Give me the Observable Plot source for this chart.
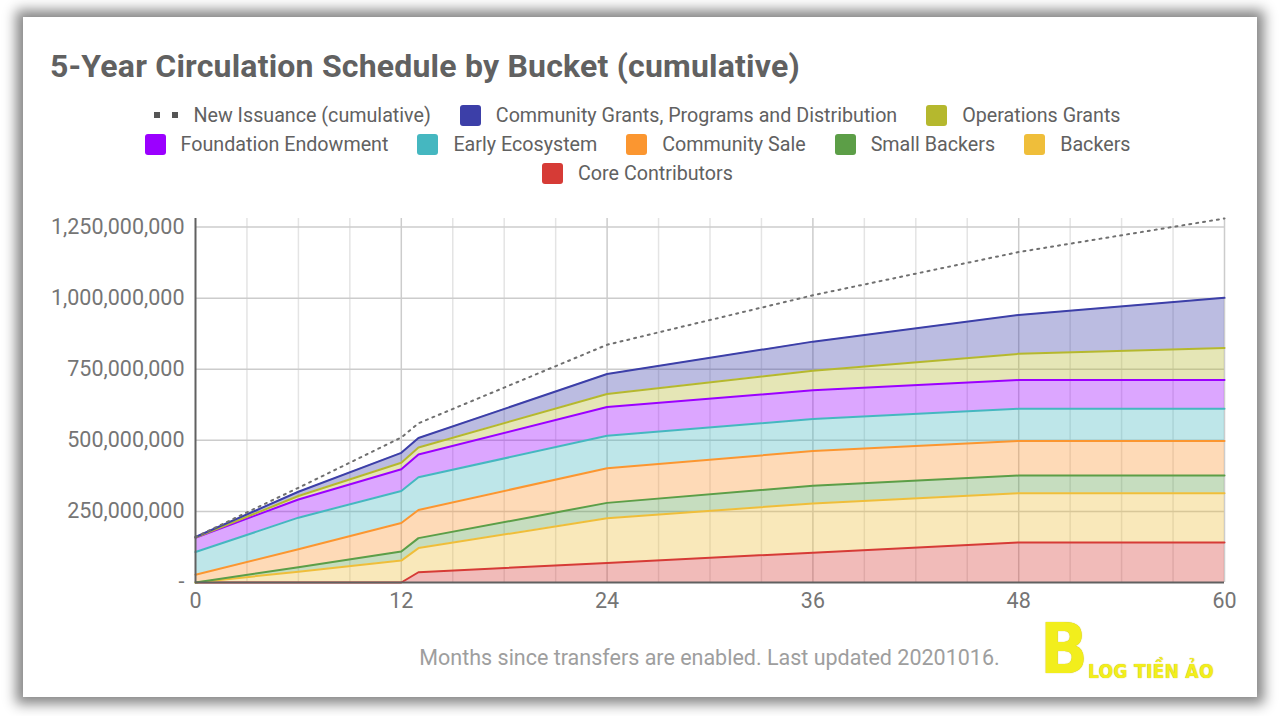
<!DOCTYPE html>
<html>
<head>
<meta charset="utf-8">
<script src="https://cdn.jsdelivr.net/npm/d3@7"></script>
<script src="https://cdn.jsdelivr.net/npm/@observablehq/plot@0.6"></script>
<style>
  html, body { margin: 0; padding: 0; }
  body { width: 1280px; height: 716px; position: relative; overflow: hidden; background: #fff; font-family: Roboto, "Noto Sans", sans-serif; }
  #card { position: absolute; left: 23px; top: 17px; width: 1234px; height: 680px; background: #fff; box-shadow: 0 0 12px 7px rgba(0,0,0,0.48); }
  #title { position: absolute; left: 50px; top: 46px; font-size: 32px; letter-spacing: 0.2px; font-weight: 700; color: #616161; white-space: nowrap; line-height: 40px; }
  .row { position: absolute; left: 0; width: 1275px; display: flex; justify-content: center; align-items: center; height: 26px; }
  .item { display: flex; align-items: center; margin: 0 14.5px; font-size: 19.7px; color: #616161; white-space: nowrap; }
  .sw { width: 21px; height: 21px; border-radius: 3px; margin-right: 15px; }
  .dots { display: flex; width: 24px; justify-content: space-between; margin-right: 15px; }
  .dots span { width: 6px; height: 6px; background: #555; display: block; }
  #chart { position: absolute; left: 0; top: 190px; }
  #caption { position: absolute; left: 195px; width: 1029px; top: 646px; text-align: center; font-size: 21.5px; color: #9e9e9e; line-height: 24px; }
  #logo { position: absolute; left: 1040px; top: 616px; color: #f2ee1c; font-family: "DejaVu Sans Condensed", "DejaVu Sans", sans-serif; font-weight: 700; white-space: nowrap; text-shadow: 0 0 1px #b8a800; }
  #logo .b { font-size: 70px; line-height: 66px; vertical-align: bottom; }
  #logo .t { font-size: 19px; letter-spacing: 0.3px; }
</style>
</head>
<body>
<div id="card"></div>
<div id="title">5-Year Circulation Schedule by Bucket (cumulative)</div>
<div id="legend"></div>
<div id="chart"></div>
<div id="caption">Months since transfers are enabled. Last updated 20201016.</div>
<div id="logo"><span class="b">B</span><span class="t">LOG TIỀN ẢO</span></div>
<script>
// ---- data (values in millions of tokens) ----
const months = [0, 6, 12, 13, 24, 36, 48, 60];
const coreContributors    = [0, 0, 0, 36, 69, 105, 141, 141];
const backers             = [0, 38, 77, 85, 157, 173, 173, 173];
const smallBackers        = [0, 16, 32, 35, 54, 62, 62, 62];
const communitySale       = [27, 63, 100, 99, 122, 122, 122, 122];
const earlyEcosystem      = [80, 111, 113, 115, 114, 113, 113, 113];
const foundationEndowment = [50, 64, 76, 80, 101, 101, 101, 101];
const operationsGrants    = [1, 12, 23, 25, 46, 69, 92, 113];
const communityGrants     = [2, 15, 35, 33, 70, 102, 137, 176];
const newIssuance         = [160, 333, 510, 560, 836, 1010, 1162, 1280];

// stack order bottom -> top
const bucketNames = ["Core Contributors", "Backers", "Small Backers", "Community Sale",
  "Early Ecosystem", "Foundation Endowment", "Operations Grants",
  "Community Grants, Programs and Distribution"];
const bucketSeries = [coreContributors, backers, smallBackers, communitySale,
  earlyEcosystem, foundationEndowment, operationsGrants, communityGrants];
const bucketColors = ["#d63b36", "#efbe3a", "#5c9e47", "#fb9630",
  "#45b7c0", "#9b00ff", "#b5b82e", "#3c3fa8"];

const xTicks = [0, 12, 24, 36, 48, 60];
const yTicks = [0, 250e6, 500e6, 750e6, 1000e6, 1250e6];
const legendRows = [
  ["New Issuance (cumulative)", "Community Grants, Programs and Distribution", "Operations Grants"],
  ["Foundation Endowment", "Early Ecosystem", "Community Sale", "Small Backers", "Backers"],
  ["Core Contributors"]
];

// ---- legend ----
const legend = document.getElementById("legend");
const rowTops = [102, 131, 160];
legendRows.forEach((row, i) => {
  const r = document.createElement("div");
  r.className = "row";
  r.style.top = rowTops[i] + "px";
  row.forEach(name => {
    const it = document.createElement("div");
    it.className = "item";
    if (name === "New Issuance (cumulative)") {
      it.innerHTML = '<div class="dots"><span></span><span></span></div>';
    } else {
      const c = bucketColors[bucketNames.indexOf(name)];
      it.innerHTML = `<div class="sw" style="background:${c}"></div>`;
    }
    const t = document.createElement("span");
    t.textContent = name;
    it.appendChild(t);
    r.appendChild(it);
  });
  legend.appendChild(r);
});

// ---- tidy data ----
const rows = [];
bucketNames.forEach((b, j) => {
  months.forEach((m, i) => rows.push({month: m, bucket: b, value: bucketSeries[j][i] * 1e6}));
});
const issuance = months.map((m, i) => ({month: m, value: newIssuance[i] * 1e6}));
const minorMonths = d3.range(0, 61, 3).filter(m => m % 12 !== 0);

const chart = Plot.plot({
  width: 1280,
  height: 432,
  marginLeft: 195,
  marginRight: 56,
  marginTop: 28,
  marginBottom: 40,
  style: {fontFamily: "Roboto, sans-serif", fontSize: "21.5px", color: "#757575", background: "transparent"},
  x: {domain: [0, 60]},
  y: {domain: [0, 1.28e9]},
  color: {domain: bucketNames, range: bucketColors},
  marks: [
    Plot.ruleX(minorMonths, {stroke: "#e4e4e4", strokeWidth: 1.5}),
    Plot.ruleX(xTicks.slice(1), {stroke: "#cccccc", strokeWidth: 1.5}),
    Plot.ruleY(yTicks.slice(1), {stroke: "#cccccc", strokeWidth: 1.5}),
    Plot.areaY(rows, {x: "month", y: "value", z: "bucket", fill: "bucket", fillOpacity: 0.35, order: bucketNames}),
    Plot.lineY(rows, Plot.stackY2({x: "month", y: "value", z: "bucket", stroke: "bucket", strokeWidth: 2, order: bucketNames})),
    Plot.lineY(issuance, {x: "month", y: "value", stroke: "#707070", strokeWidth: 2, strokeDasharray: "2,5"}),
    Plot.ruleX([0], {stroke: "#616161", strokeWidth: 2}),
    Plot.ruleY([0], {stroke: "#616161", strokeWidth: 2}),
    Plot.axisY({ticks: yTicks, tickSize: 0, tickPadding: 11, label: null,
      tickFormat: d => d === 0 ? "-" : d3.format(",")(d), fill: "#757575"}),
    Plot.axisX({ticks: xTicks, tickSize: 0, tickPadding: 10, label: null, fill: "#757575"})
  ]
});
document.getElementById("chart").appendChild(chart);
</script>
</body>
</html>
